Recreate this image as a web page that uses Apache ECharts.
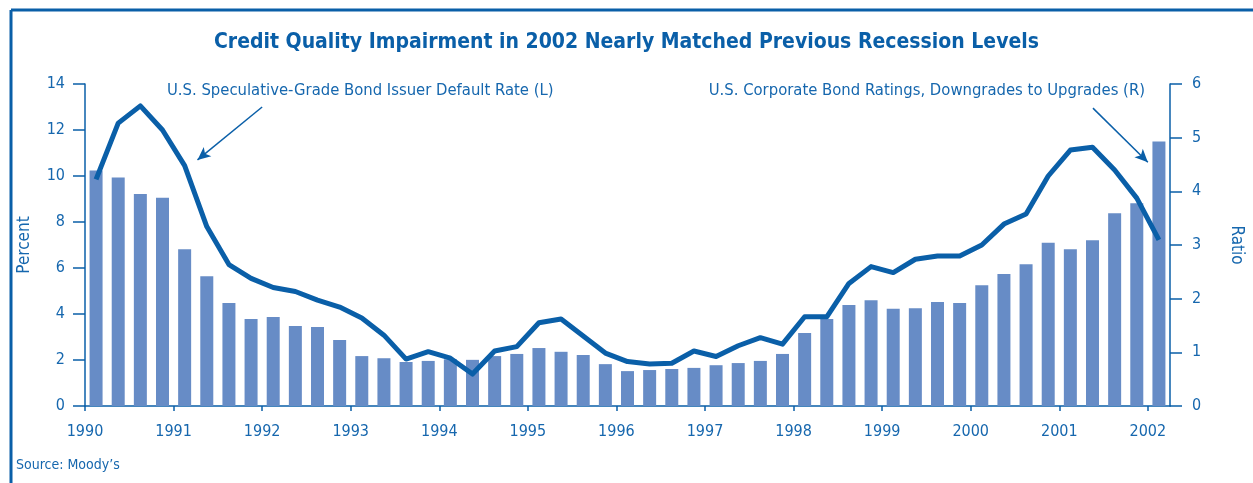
<!DOCTYPE html>
<html>
<head>
<meta charset="utf-8">
<script src="https://cdn.jsdelivr.net/npm/echarts@6/dist/echarts.min.js"></script>
<style>
  html, body { margin: 0; padding: 0; background: #fff; }
  #chart { width: 1253px; height: 483px; }
</style>
</head>
<body>
<div id="chart"></div>
<script>
// quarterly data, 1990 Q1 .. 2002 Q1
const defaultRate = [
  9.85, 12.3, 13.05, 12.0, 10.45, 7.8, 6.15, 5.55, 5.15, 4.98, 4.6, 4.3, 3.83,
  3.08, 2.04, 2.36, 2.08, 1.39, 2.39, 2.58, 3.62, 3.78, 3.04, 2.3, 1.93,
  1.83, 1.86, 2.39, 2.15, 2.62, 2.97, 2.69, 3.88, 3.88, 5.33, 6.06, 5.8,
  6.38, 6.52, 6.52, 7.0, 7.91, 8.35, 10.0, 11.13, 11.25, 10.26, 9.04, 7.22
]
const downUpRatio = [
  4.39, 4.26, 3.95, 3.88, 2.92, 2.42, 1.92, 1.62, 1.66, 1.49, 1.47, 1.23, 0.93,
  0.89, 0.82, 0.84, 0.87, 0.86, 0.93, 0.97, 1.08, 1.01, 0.95, 0.78, 0.65,
  0.67, 0.69, 0.71, 0.76, 0.8, 0.84, 0.97, 1.36, 1.62, 1.88, 1.97, 1.81,
  1.82, 1.94, 1.92, 2.25, 2.46, 2.64, 3.04, 2.92, 3.09, 3.59, 3.78, 4.93
]
const years = [1990, 1991, 1992, 1993, 1994, 1995, 1996, 1997, 1998, 1999, 2000, 2001, 2002]
const leftTicks = [0, 2, 4, 6, 8, 10, 12, 14]
const rightTicks = [0, 1, 2, 3, 4, 5, 6]

// each quarter sits at the middle of its quarter-year
const quarterPos = defaultRate.map((_, i) => 1990.125 + i * 0.25)

const blue = '#0a5fa8'
const textBlue = '#1667ae'
const font = '"Liberation Sans Narrow", "DejaVu Sans Condensed", "Roboto", sans-serif'

const chart = echarts.init(document.getElementById('chart'))
chart.setOption({
  animation: false,
  textStyle: { fontFamily: font },
  grid: { left: 85, right: 80, top: 84, bottom: 77 },
  xAxis: {
    type: 'value',
    min: 1990,
    max: 2002.25,
    interval: 1,
    splitLine: { show: false },
    axisLine: { lineStyle: { color: blue, width: 1.5 } },
    axisTick: { show: true, length: 5, customValues: years, lineStyle: { color: blue, width: 1.5 } },
    axisLabel: {
      customValues: years,
      formatter: v => String(v),
      color: textBlue,
      fontSize: 16,
      fontFamily: font,
      margin: 18
    }
  },
  yAxis: [{
    type: 'value',
    min: 0,
    max: 14,
    interval: 2,
    position: 'left',
    name: 'Percent',
    nameLocation: 'middle',
    nameRotate: 90,
    nameGap: 52,
    nameTextStyle: { color: textBlue, fontSize: 17, fontFamily: font },
    splitLine: { show: false },
    axisLine: { show: true, lineStyle: { color: blue, width: 1.5 } },
    axisTick: { show: true, length: 12, customValues: leftTicks, lineStyle: { color: blue, width: 1.5 } },
    axisLabel: { customValues: leftTicks, color: textBlue, fontSize: 16, fontFamily: font, margin: 20 }
  }, {
    type: 'value',
    min: 0,
    max: 6,
    interval: 1,
    position: 'right',
    name: 'Ratio',
    nameLocation: 'middle',
    nameRotate: -90,
    nameGap: 58,
    nameTextStyle: { color: textBlue, fontSize: 17, fontFamily: font },
    splitLine: { show: false },
    axisLine: { show: true, lineStyle: { color: blue, width: 1.5 } },
    axisTick: { show: true, length: 12, customValues: rightTicks, lineStyle: { color: blue, width: 1.5 } },
    axisLabel: { customValues: rightTicks, color: textBlue, fontSize: 16, fontFamily: font, margin: 22 }
  }],
  series: [{
    name: 'Downgrades to Upgrades',
    type: 'bar',
    yAxisIndex: 1,
    barWidth: 13,
    itemStyle: { color: '#678cc6' },
    data: quarterPos.map((x, i) => [x, downUpRatio[i]])
  }, {
    name: 'Default Rate',
    type: 'line',
    yAxisIndex: 0,
    showSymbol: false,
    symbol: 'none',
    lineStyle: { color: blue, width: 5, join: 'round' },
    data: quarterPos.map((x, i) => [x, defaultRate[i]]),
    markLine: {
      silent: true,
      symbol: ['none', 'arrow'],
      symbolSize: [9, 13],
      label: { show: false },
      lineStyle: { color: blue, width: 1.5, type: 'solid' },
      data: [
        [{ coord: [1992.0, 13.0] }, { coord: [1991.27, 10.7] }],
        [{ coord: [2001.38, 12.95] }, { coord: [2002.0, 10.6] }]
      ]
    }
  }],
  graphic: [
    // frame
    { type: 'line', shape: { x1: 11, y1: 10, x2: 1253, y2: 10 }, style: { stroke: blue, lineWidth: 3 } },
    { type: 'line', shape: { x1: 11, y1: 10, x2: 11, y2: 483 }, style: { stroke: blue, lineWidth: 3 } },
    {
      type: 'text', left: 'center', top: 32,
      style: {
        text: 'Credit Quality Impairment in 2002 Nearly Matched Previous Recession Levels',
        fill: blue, font: 'bold 21px ' + font
      }
    },
    {
      type: 'text', left: 167, top: 82,
      style: { text: 'U.S. Speculative-Grade Bond Issuer Default Rate (L)', fill: textBlue, font: '16.5px ' + font }
    },
    {
      type: 'text', right: 108, top: 82,
      style: { text: 'U.S. Corporate Bond Ratings, Downgrades to Upgrades (R)', fill: textBlue, font: '16.5px ' + font }
    },
    {
      type: 'text', left: 16, top: 458,
      style: { text: 'Source: Moody\u2019s', fill: textBlue, font: '14px ' + font }
    }
  ]
})
</script>
</body>
</html>
